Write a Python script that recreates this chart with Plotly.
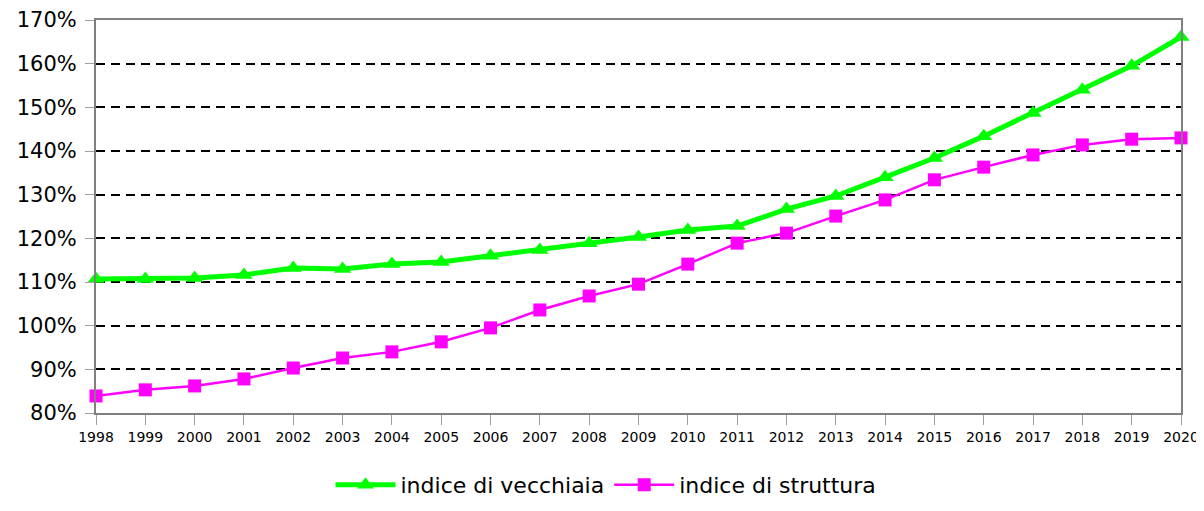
import plotly.graph_objects as go

years = list(range(1998, 2021))
vecchiaia = [110.7, 110.7, 110.9, 111.6, 113.2, 113.0, 114.1, 114.6, 116.0, 117.3, 118.9, 120.3,
             121.9, 122.8, 126.7, 129.7, 134.0, 138.4, 143.4, 148.7, 154.0, 159.5, 166.1]
struttura = [83.9, 85.3, 86.2, 87.8, 90.3, 92.6, 94.0, 96.3, 99.5, 103.6, 106.8, 109.5,
             114.1, 118.9, 121.2, 125.1, 128.8, 133.4, 136.3, 139.1, 141.4, 142.7, 143.0]
y_ticks = list(range(80, 171, 10))
y_labels = [f"{v}%" for v in y_ticks]

W, H = 1196, 488  # kept a little smaller so the page never scrolls

fig = go.Figure()
fig.add_trace(go.Scatter(
    x=years, y=vecchiaia, name="indice di vecchiaia", mode="lines+markers",
    line=dict(color="#00FF00", width=5),
    marker=dict(symbol="triangle-up", size=15, color="#00FF00"),
    cliponaxis=False))
fig.add_trace(go.Scatter(
    x=years, y=struttura, name="indice di struttura", mode="lines+markers",
    line=dict(color="#FF00FF", width=2.5),
    marker=dict(symbol="square", size=13, color="#FF00FF"),
    cliponaxis=False))

fig.update_layout(
    width=W, height=H,
    margin=dict(l=88, r=23, t=12, b=83, autoexpand=False),
    plot_bgcolor="white", paper_bgcolor="white",
    font=dict(family="DejaVu Sans", color="black"),
    showlegend=True,
    legend=dict(orientation="h", x=598 / W, xanchor="center", xref="container",
                y=(H - 477) / H, yanchor="middle", yref="container",
                font=dict(size=22), traceorder="normal", itemwidth=60),
    xaxis=dict(
        range=[1998, 2020], tickmode="array", tickvals=years,
        ticktext=[str(y) for y in years], automargin=False,
        ticklabeloverflow="allow",
        showgrid=False, zeroline=False,
        showline=True, linecolor="#808080", linewidth=2, mirror=True,
        ticks="outside", ticklen=10, tickcolor="#a0a0a0", tickwidth=1,
        tickfont=dict(size=14)),
    yaxis=dict(
        range=[80, 170], tickmode="array", tickvals=y_ticks, ticktext=y_labels,
        automargin=False,
        showgrid=True, gridcolor="black", gridwidth=2, griddash="9px,6px",
        zeroline=False,
        showline=True, linecolor="#808080", linewidth=2, mirror=True,
        ticks="outside", ticklen=9, tickcolor="#a0a0a0", tickwidth=1,
        tickfont=dict(size=21), ticklabelstandoff=4),
)

fig.write_html("out.html")
